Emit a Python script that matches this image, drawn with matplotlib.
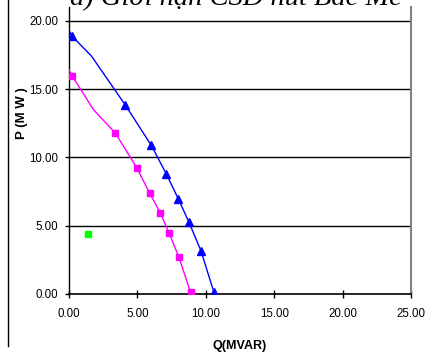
import matplotlib
matplotlib.use('Agg')
import matplotlib.pyplot as plt
from matplotlib.lines import Line2D

plt.rcParams['font.family'] = ['Liberation Sans', 'DejaVu Sans']

# ---------- data ----------
# blue (triangles)
q_blue = [0.24, 4.12, 6.02, 7.12, 7.99, 8.77, 9.65, 10.58]
p_blue = [18.85, 13.82, 10.87, 8.77, 6.96, 5.25, 3.15, 0.17]
q_blue_line = [0.0, 0.24, 1.65, 4.12, 6.02, 7.12, 7.99, 8.77, 9.65, 10.58, 10.7]
p_blue_line = [19.3, 18.85, 17.4, 13.82, 10.87, 8.77, 6.96, 5.25, 3.15, 0.17, -0.3]

# magenta (squares)
q_mag = [0.24, 3.39, 4.95, 5.90, 6.68, 7.31, 8.02, 8.89]
p_mag = [15.95, 11.77, 9.25, 7.37, 5.93, 4.47, 2.73, 0.12]
q_mag_line = [0.0, 0.24, 1.78, 3.39, 4.95, 5.90, 6.68, 7.31, 8.02, 8.89, 8.95]
p_mag_line = [16.4, 15.95, 13.5, 11.77, 9.25, 7.37, 5.93, 4.47, 2.73, 0.12, -0.3]

# operating point (green)
q_op = [1.39]
p_op = [4.37]

x_ticks = [0, 5, 10, 15, 20, 25]
y_ticks = [0, 5, 10, 15, 20]

# ---------- plot ----------
fig = plt.figure(figsize=(4.26, 3.56), dpi=100)
ax = fig.add_axes([69/426, 1-294/356, 342/426, 287/356])

for y in y_ticks[1:]:
    ax.axhline(y, color='black', lw=1.0, zorder=1)

ax.plot(q_blue_line, p_blue_line, color='#0000ff', lw=1.0, zorder=3)
ax.plot(q_blue, p_blue, ls='none', marker='^', ms=5.5, color='#0000ff', zorder=4)
ax.plot(q_mag_line, p_mag_line, color='#ff00ff', lw=1.0, zorder=3)
ax.plot(q_op, p_op, ls='none', marker='s', ms=5, color='#00ff00', zorder=4)
ax.plot(q_mag, p_mag, ls='none', marker='s', ms=5, color='#ff00ff', zorder=4)

ax.set_xlim(0, 25)
ax.set_ylim(0, 21)
ax.set_xticks(x_ticks)
ax.set_yticks(y_ticks)
ax.set_xticklabels(['%.2f' % v for v in x_ticks])
ax.set_yticklabels(['%.2f' % v for v in y_ticks])
ax.tick_params(axis='x', direction='inout', length=6, width=1, pad=7, labelsize=8.3)
ax.tick_params(axis='y', direction='out', length=3, width=1, pad=4.5, labelsize=8.3)

ax.spines['top'].set_visible(False)
ax.spines['right'].set_color('#808080')
ax.spines['right'].set_linewidth(1.5)
ax.spines['left'].set_linewidth(1.0)
ax.spines['bottom'].set_linewidth(1.2)

ax.set_xlabel('Q(MVAR)', fontsize=9, fontweight='bold')
ax.xaxis.set_label_coords(171/342, -46/287)
ax.set_ylabel('P (M W )', fontsize=9.5, fontweight='bold')
ax.yaxis.set_label_coords(-41/342, 181/287)

fig.text(236/426, 1-5.5/356, 'a) Giới hạn CSD nút Bắc Mê', ha='center', va='baseline',
         family='Liberation Serif', style='italic', fontsize=20.5)

fig.add_artist(Line2D([8/426, 8/426], [1-346/356, 1.0], color='black', lw=1.0,
                      transform=fig.transFigure))

fig.savefig('out.png', dpi=100)
